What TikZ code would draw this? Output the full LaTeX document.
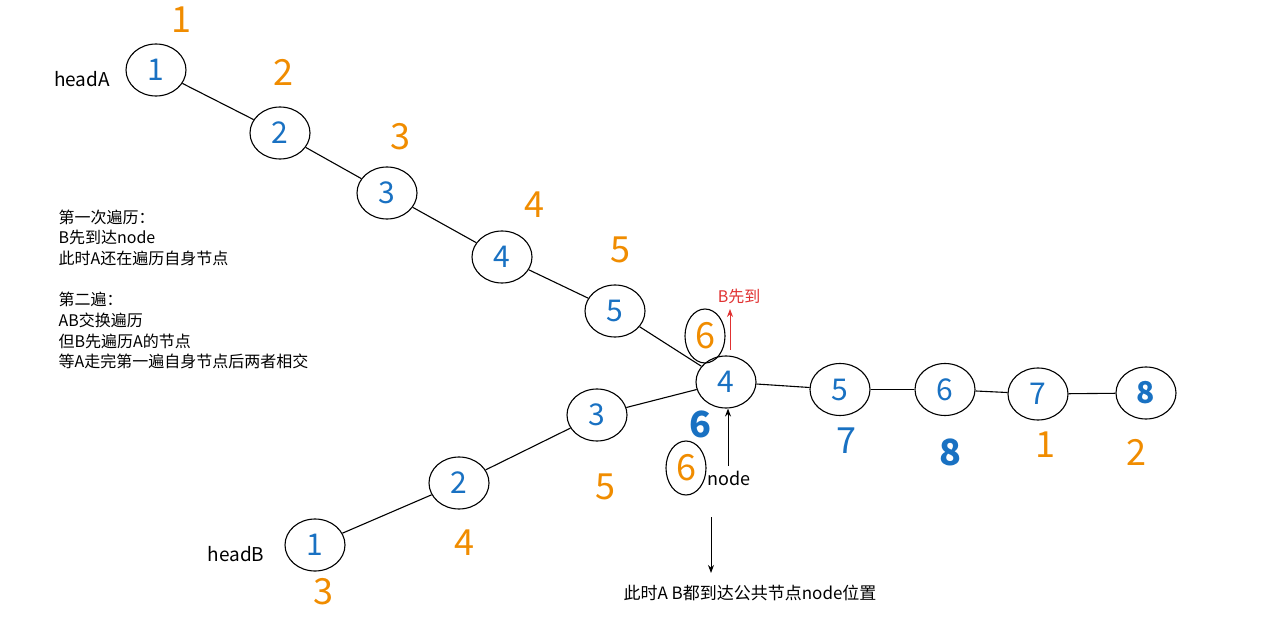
\documentclass[tikz,border=0pt]{standalone}
\usepackage{fontspec}
\setmainfont{Noto Sans CJK SC}
\usetikzlibrary{shapes.geometric,arrows.meta}
\definecolor{cblue}{HTML}{1971C2}
\definecolor{corange}{HTML}{F08C00}
\definecolor{cred}{HTML}{E03131}
\begin{document}
\begin{tikzpicture}[x=1pt,y=-1pt,
  lnode/.style={ellipse,draw,line width=1.1pt,minimum width=60pt,minimum height=52pt,inner sep=0pt,text=cblue,font=\fontsize{30}{30}\selectfont},
  link/.style={line width=1.1pt},
  onum/.style={text=corange,font=\fontsize{36}{36}\selectfont},
  bnum/.style={text=cblue,font=\fontsize{36}{36}\selectfont},
  lbl/.style={font=\fontsize{18}{18}\selectfont},
  arr/.style={line width=0.9pt,-{Stealth[length=8pt,width=6pt]}},
  circ6/.style={ellipse,draw,line width=1.1pt,minimum width=40pt,minimum height=54pt,inner sep=0pt,text=corange,font=\fontsize{36}{36}\selectfont}]
\useasboundingbox (0,0) rectangle (1284,636);
% list A
\node[lnode] (A1) at (156,70) {1};
\node[lnode] (A2) at (280,133) {2};
\node[lnode] (A3) at (387,193) {3};
\node[lnode] (A4) at (502,257) {4};
\node[lnode] (A5) at (615,311) {5};
% common part
\node[lnode] (C4) at (726,382) {4};
\node[lnode] (C5) at (840,389.5) {5};
\node[lnode] (C6) at (945,389.5) {6};
\node[lnode] (C7) at (1038,394) {7};
\node[lnode,font=\fontsize{30}{30}\selectfont\bfseries] (C8) at (1146,393) {8};
% list B
\node[lnode] (B3) at (597,415) {3};
\node[lnode] (B2) at (459,483) {2};
\node[lnode] (B1) at (315,545) {1};
% links
\draw[link] (A1) -- (A2);
\draw[link] (A2) -- (A3);
\draw[link] (A3) -- (A4);
\draw[link] (A4) -- (A5);
\draw[link] (A5) -- (C4);
\draw[link] (B1) -- (B2);
\draw[link] (B2) -- (B3);
\draw[link] (B3) -- (C4);
\draw[link] (C4) -- (C5);
\draw[link] (C5) -- (C6);
\draw[link] (C6) -- (C7);
\draw[link] (C7) -- (C8);
% orange step numbers
\node[onum] (o1) at (181,20) {1};
\node[onum] (o2) at (283,72) {2};
\node[onum] (o3) at (400,137) {3};
\node[onum] (o4) at (534,205) {4};
\node[onum] (o5) at (620,250) {5};
\node[circ6] (o6a) at (705,336) {6};
\node[onum] (ob5) at (605,487) {5};
\node[onum] (ob4) at (464,543) {4};
\node[onum] (ob3) at (323,592) {3};
\node[onum] (oc1) at (1045,445) {1};
\node[onum] (oc2) at (1136,452) {2};
\node[circ6] (o6b) at (686,468) {6};
% blue step numbers
\node[bnum,font=\fontsize{36}{36}\selectfont\bfseries] (b6) at (700,424) {6};
\node[bnum] (b7) at (846,441) {7};
\node[bnum,font=\fontsize{36}{36}\selectfont\bfseries] (b8) at (950,452) {8};
% labels
\node[lbl,font=\fontsize{19}{19}\selectfont] (headA) at (82,79) {headA};
\node[lbl,font=\fontsize{19}{19}\selectfont] (headB) at (236,554) {headB};
\node[lbl,anchor=west] (nodelbl) at (704,478) {node};
\node[text=cred,font=\fontsize{16}{16}\selectfont] (bfirst) at (739,296) {B先到};
\coordinate (rs) at (730,350);
\coordinate (re) at (730,309);
\draw[arr,cred,line width=0.8pt] (rs) -- (re);
\coordinate (ns) at (728,466);
\draw[arr] (ns) -- (C4.south -| ns);
\coordinate (ds) at (711,517);
\coordinate (de) at (711,573);
\draw[arr] (ds) -- (de);
\node[font=\fontsize{17}{17}\selectfont] (bottom) at (750,593) {此时A\ B都到达公共节点node位置};
\node[anchor=north west,align=left,font=\fontsize{16}{20.7}\selectfont] (notes) at (55,206) {第一次遍历：\\B先到达node\\此时A还在遍历自身节点\\[20.7pt]第二遍：\\AB交换遍历\\但B先遍历A的节点\\等A走完第一遍自身节点后两者相交};
\end{tikzpicture}
\end{document}
